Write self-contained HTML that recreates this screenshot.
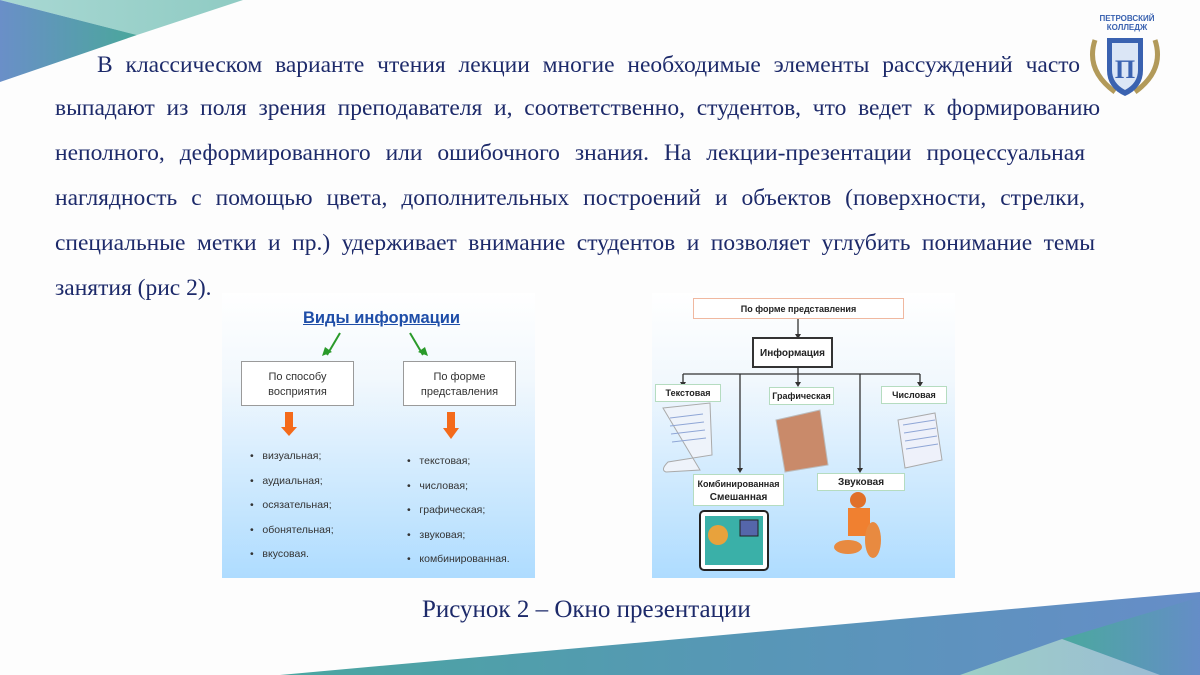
<!DOCTYPE html>
<html><head><meta charset="utf-8"><style>
body{margin:0;width:1200px;height:675px;background:#fdfdfd;position:relative;overflow:hidden;font-family:"Liberation Serif",serif;}
.l{position:absolute;left:55px;width:1045px;font-size:23.5px;color:#1d2a6a;white-space:nowrap;text-align:justify;text-align-last:justify;line-height:24px}
.s{font-family:"Liberation Sans",sans-serif;position:absolute;}
.box{position:absolute;background:#fff;border:1px solid #9a9a9a;font-family:"Liberation Sans",sans-serif;font-size:11px;color:#333;text-align:center;box-sizing:border-box}
.li{position:absolute;font-family:"Liberation Sans",sans-serif;font-size:10.5px;color:#333}
.rb{position:absolute;background:#fff;border:1px solid #b5dcc0;font-family:"Liberation Sans",sans-serif;font-size:9px;font-weight:bold;color:#222;text-align:center;box-sizing:border-box}
</style></head><body>
<svg width="1200" height="675" style="position:absolute;left:0;top:0">
<defs>
<linearGradient id="g1" x1="0" x2="1"><stop offset="0" stop-color="#6a8fc8"/><stop offset="1" stop-color="#4aa79b"/></linearGradient>
<linearGradient id="g2" x1="0" x2="1"><stop offset="0" stop-color="#a9d8d3"/><stop offset="1" stop-color="#8fcbc3"/></linearGradient>
<linearGradient id="g3" x1="0" x2="1"><stop offset="0" stop-color="#4aa6a0"/><stop offset="0.5" stop-color="#5797b6"/><stop offset="1" stop-color="#668dc8"/></linearGradient>
<linearGradient id="g4" x1="0" x2="1"><stop offset="0" stop-color="#9ccfc6"/><stop offset="1" stop-color="#9bbcd4"/></linearGradient>
<linearGradient id="g5" x1="0" x2="1"><stop offset="0" stop-color="#4aa99e"/><stop offset="1" stop-color="#658dc7"/></linearGradient>
<linearGradient id="fb" x1="0" y1="0" x2="0" y2="1"><stop offset="0" stop-color="#ffffff"/><stop offset="0.3" stop-color="#f2f8fd"/><stop offset="1" stop-color="#aedcff"/></linearGradient>
</defs>
<polygon points="0,0 243,0 137,35" fill="url(#g2)"/>
<polygon points="0,0 137,35 0,82" fill="url(#g1)"/>
<polygon points="280,675 1200,592 1200,675" fill="url(#g3)"/>
<polygon points="1062,639 1200,597 1200,675 1160,675" fill="url(#g5)"/>
<polygon points="1062,639 960,675 1160,675" fill="url(#g4)"/>
<rect x="222" y="293" width="313" height="285" fill="url(#fb)"/>
<rect x="652" y="293" width="303" height="285" fill="url(#fb)"/>
<g stroke="#2a9a2a" stroke-width="2" fill="none"><line x1="340" y1="333" x2="327" y2="355"/><line x1="410" y1="333" x2="423" y2="355"/></g>
<polygon points="322,356 332,352 325,347" fill="#2a9a2a"/><polygon points="428,356 418,352 425,347" fill="#2a9a2a"/>
<rect x="285" y="412" width="8" height="15" fill="#f46a1a"/><polygon points="281,427 297,427 289,436" fill="#f46a1a"/>
<rect x="447" y="412" width="8" height="17" fill="#f46a1a"/><polygon points="443,428 459,428 451,439" fill="#f46a1a"/>
<g stroke="#333" stroke-width="1.3" fill="none">
<line x1="798" y1="319" x2="798" y2="336"/>
<line x1="683" y1="374" x2="920" y2="374"/>
<line x1="798" y1="368" x2="798" y2="384"/>
<line x1="683" y1="374" x2="683" y2="384"/>
<line x1="920" y1="374" x2="920" y2="384"/>
<line x1="740" y1="374" x2="740" y2="470"/>
<line x1="860" y1="374" x2="860" y2="470"/>
</g>
<g fill="#333"><polygon points="680,382 686,382 683,387"/><polygon points="795,382 801,382 798,387"/><polygon points="917,382 923,382 920,387"/><polygon points="737,468 743,468 740,473"/><polygon points="857,468 863,468 860,473"/><polygon points="795,334 801,334 798,339"/></g>
<path d="M663,408 L710,403 L712,455 L668,462 Q660,470 666,472 L700,470 Z" fill="#eef3fa" stroke="#aaa"/>
<path d="M776,420 L820,410 L828,465 L785,472 Z" fill="#c98a6a" stroke="#bbb"/>
<path d="M898,420 L935,413 L942,460 L905,468 Z" fill="#eef1fa" stroke="#aaa"/>
<g stroke="#8fa6d6" stroke-width="1"><line x1="670" y1="418" x2="703" y2="414"/><line x1="670" y1="426" x2="704" y2="422"/><line x1="671" y1="434" x2="705" y2="430"/><line x1="672" y1="442" x2="706" y2="438"/>
<line x1="903" y1="425" x2="935" y2="420"/><line x1="904" y1="433" x2="936" y2="428"/><line x1="905" y1="441" x2="937" y2="436"/><line x1="906" y1="449" x2="938" y2="444"/></g>
<rect x="700" y="511" width="68" height="59" fill="#fff" stroke="#222" stroke-width="2" rx="4"/>
<rect x="705" y="516" width="58" height="49" fill="#3ab0a8"/>
<circle cx="718" cy="535" r="10" fill="#e8a23c"/>
<rect x="740" y="520" width="18" height="16" fill="#5566aa" stroke="#222"/>
<ellipse cx="858" cy="500" rx="8" ry="8" fill="#e0702a"/>
<rect x="848" y="508" width="22" height="28" fill="#f08030"/>
<ellipse cx="848" cy="547" rx="14" ry="7" fill="#e88a40"/>
<ellipse cx="873" cy="540" rx="8" ry="18" fill="#e88a40"/>
</svg>

<div class="l" style="top:53px;left:97px;width:983px">В классическом варианте чтения лекции многие необходимые элементы рассуждений часто</div>
<div class="l" style="top:96px">выпадают из поля зрения преподавателя и, соответственно, студентов, что ведет к формированию</div>
<div class="l" style="top:141px;width:1030px">неполного, деформированного или ошибочного знания. На лекции-презентации процессуальная</div>
<div class="l" style="top:186px;width:1030px">наглядность с помощью цвета, дополнительных построений и объектов (поверхности, стрелки,</div>
<div class="l" style="top:231px;width:1040px">специальные метки и пр.) удерживает внимание студентов и позволяет углубить понимание темы</div>
<div class="l" style="top:276px;text-align:left;text-align-last:left">занятия (рис 2).</div>
<div class="l" style="top:598px;left:422px;width:auto;font-size:25px;text-align:left;text-align-last:left">Рисунок 2 – Окно презентации</div>

<div class="s" style="left:1092px;top:14px;font-size:8px;font-weight:bold;color:#3a62b0;width:70px;text-align:center;line-height:9px">ПЕТРОВСКИЙ<br>КОЛЛЕДЖ</div>
<svg width="80" height="80" style="position:absolute;left:1085px;top:30px">
<path d="M10,10 Q0,40 30,62 M70,10 Q80,40 50,62" stroke="#b29a5a" stroke-width="5" fill="none"/>
<path d="M22,8 L58,8 L58,40 Q58,58 40,66 Q22,58 22,40 Z" fill="#3a62b0"/>
<path d="M27,13 L53,13 L53,40 Q53,53 40,60 Q27,53 27,40 Z" fill="#dbe6f6"/>
<text x="40" y="48" font-family="Liberation Serif" font-size="26" font-weight="bold" fill="#3a62b0" text-anchor="middle">П</text>
</svg>

<div class="s" style="left:303px;top:309px;font-size:16.5px;font-weight:bold;color:#1f4ea8;text-decoration:underline">Виды информации</div>
<div class="box" style="left:241px;top:361px;width:113px;height:45px;padding-top:8px;line-height:15px">По способу<br>восприятия</div>
<div class="box" style="left:403px;top:361px;width:113px;height:45px;padding-top:8px;line-height:15px">По форме<br>представления</div>
<div class="li" style="left:250px;top:444px;line-height:24.5px">•&nbsp;&nbsp;&nbsp;визуальная;<br>•&nbsp;&nbsp;&nbsp;аудиальная;<br>•&nbsp;&nbsp;&nbsp;осязательная;<br>•&nbsp;&nbsp;&nbsp;обонятельная;<br>•&nbsp;&nbsp;&nbsp;вкусовая.</div>
<div class="li" style="left:407px;top:449px;line-height:24.5px">•&nbsp;&nbsp;&nbsp;текстовая;<br>•&nbsp;&nbsp;&nbsp;числовая;<br>•&nbsp;&nbsp;&nbsp;графическая;<br>•&nbsp;&nbsp;&nbsp;звуковая;<br>•&nbsp;&nbsp;&nbsp;комбинированная.</div>

<div class="rb" style="left:693px;top:298px;width:211px;height:21px;line-height:20px;border-color:#f0b8a0">По форме представления</div>
<div class="box" style="left:752px;top:337px;width:81px;height:31px;line-height:29px;border:2px solid #333;font-weight:bold;font-size:10px;color:#222">Информация</div>
<div class="rb" style="left:655px;top:384px;width:66px;height:18px;line-height:17px">Текстовая</div>
<div class="rb" style="left:769px;top:387px;width:65px;height:18px;line-height:17px">Графическая</div>
<div class="rb" style="left:881px;top:386px;width:66px;height:18px;line-height:17px">Числовая</div>
<div class="rb" style="left:693px;top:474px;width:91px;height:32px;line-height:13px;padding-top:3px">Комбинированная<br><span style="font-size:10px">Смешанная</span></div>
<div class="rb" style="left:817px;top:473px;width:88px;height:18px;line-height:17px;font-size:10px">Звуковая</div>
</body></html>
